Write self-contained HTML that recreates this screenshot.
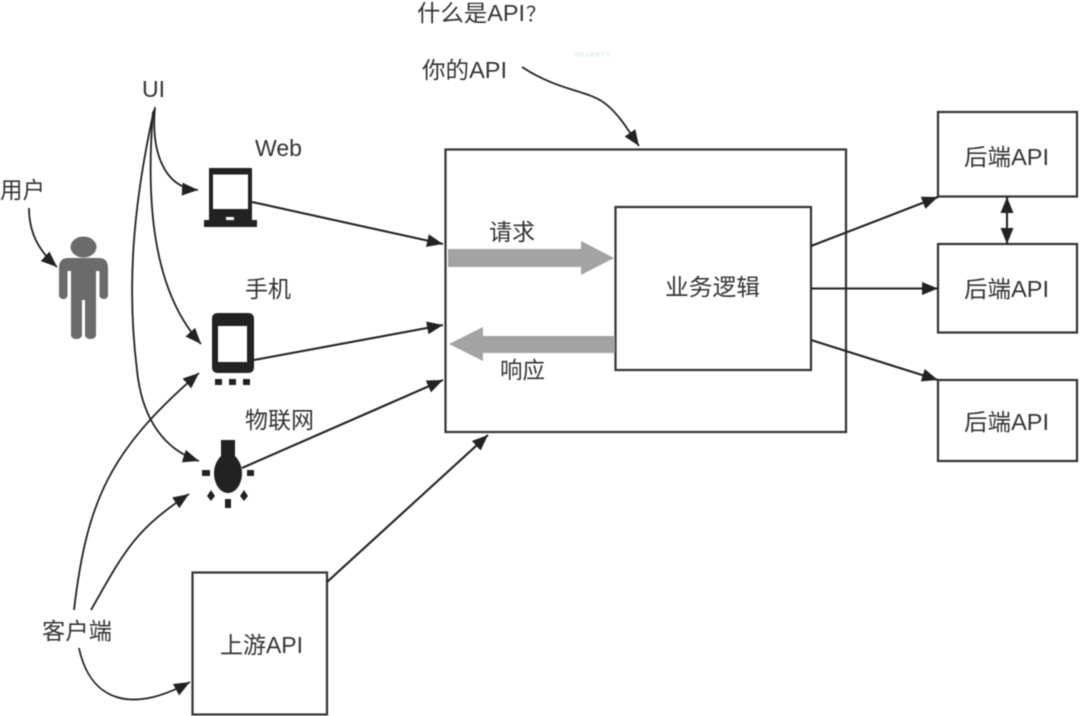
<!DOCTYPE html>
<html><head><meta charset="utf-8"><style>
html,body{margin:0;padding:0;background:#fff;width:1080px;height:716px;overflow:hidden}
svg{display:block;filter:blur(.4px)}
text{font-family:"Liberation Sans","Noto Sans CJK SC",sans-serif;font-size:23px;fill:#333}
.b{fill:none;stroke:#333;stroke-width:2.2}
.l{fill:none;stroke:#222;stroke-width:1.8;marker-end:url(#a)}
.t{stroke-width:2.1}
</style></head><body>
<svg width="1080" height="716" viewBox="0 0 1080 716" xmlns="http://www.w3.org/2000/svg">
<defs>
<marker id="a" markerUnits="userSpaceOnUse" markerWidth="18" markerHeight="16" refX="16" refY="8" orient="auto"><path d="M0 1.500 L16 8 L0 14.500Z" fill="#222"/></marker>
<marker id="s" markerUnits="userSpaceOnUse" markerWidth="18" markerHeight="16" refX="2" refY="8" orient="auto"><path d="M18 1.500 L2 8 L18 14.500Z" fill="#222"/></marker>
</defs>

<!-- boxes -->
<rect class="b" x="445.500" y="149.500" width="400.500" height="282.500"/>
<rect class="b" x="615.500" y="207" width="195.500" height="163"/>
<rect class="b" x="938" y="112" width="139" height="84.500"/>
<rect class="b" x="938" y="244" width="139" height="88.500"/>
<rect class="b" x="938" y="380" width="139" height="81"/>
<rect class="b" x="192.500" y="572.500" width="134.500" height="142"/>

<!-- grey arrows -->
<path d="M448 249H581V241L614 258L581 275V267H448Z" fill="#a3a3a3"/>
<path d="M449 344L483 327V336H615V353H483V361Z" fill="#a3a3a3"/>

<!-- person -->
<g fill="#6b6b6b">
<ellipse cx="83.500" cy="247" rx="13" ry="10.500"/>
<path d="M68 258H99Q108 258 108 268V296A4.500 4.500 0 0 1 99.500 296V271H96V336A6 5 0 0 1 85 336V300H82V336A6 5 0 0 1 71 336V271H67.500V296A4.500 4.500 0 0 1 59 296V268Q59 258 68 258Z"/>
</g>

<!-- laptop -->
<path fill-rule="evenodd" d="M209 168H252V220H257V227H204V220H209ZM213 174.500V209H248V174.500ZM226 217V220H234V217Z" fill="#222"/>

<!-- phone -->
<path fill-rule="evenodd" d="M218 313H248Q254 313 254 319V367Q254 373 248 373H218Q212 373 212 367V319Q212 313 218 313ZM218 326V362H247V326Z" fill="#222"/>
<g fill="#222"><rect x="215" y="379" width="7" height="6"/><rect x="229" y="379" width="7" height="6"/><rect x="243" y="379" width="7" height="6"/></g>

<!-- bulb -->
<g fill="#222">
<rect x="221" y="440" width="14" height="20"/>
<path d="M221 456C217 460 214 466 214 473C214 484 220 493 228 493C236 493 242 484 242 473C242 466 239 460 235 456Z"/>
<rect x="202" y="470" width="8" height="6"/>
<rect x="247" y="470" width="7" height="6"/>
<path d="M211 490L215 496L211 501L207 496Z"/>
<path d="M244 490L248 496L244 501L240 496Z"/>
<rect x="225" y="499" width="6" height="9"/>
</g>

<!-- connectors -->
<path class="l" d="M155 107C151 150 163 188 198 190"/>
<path class="l" d="M153 112C146 200 152 290 201 344"/>
<path class="l" d="M154 110C132 210 127 290 137 370C142 420 165 450 199 461"/>
<path class="l" d="M29 208C29 232 38 250 57 267"/>
<path class="l" d="M74 610C87 500 110 450 199 373"/>
<path class="l" d="M91 610C125 550 135 530 189 494"/>
<path class="l" d="M79 648C90 700 130 715 190 682"/>
<path class="l" d="M522 67C560 92 590 90 607 105C620 116 628 130 639 146"/>
<path class="l t" d="M252 202L443 244"/>
<path class="l t" d="M254 360L443 325"/>
<path class="l t" d="M242 468L443 380"/>
<path class="l t" d="M327 582L488 435"/>
<path class="l t" d="M811 246L938 197"/>
<path class="l t" d="M811 288.500L938 288.500"/>
<path class="l t" d="M811 340L938 380"/>
<path class="l t" d="M1007 197L1007 244" style="marker-start:url(#s)"/>

<!-- labels -->
<text x="417" y="21" textLength="108" lengthAdjust="spacingAndGlyphs">什么是API</text>
<text x="526" y="21" style="font-size:20px">？</text>
<text x="422" y="78" textLength="85" lengthAdjust="spacingAndGlyphs">你的API</text>
<text x="574" y="56" textLength="37" lengthAdjust="spacingAndGlyphs" style="font-size:5px;fill:#d5e8e8">轻易云集成平台</text>
<text x="142" y="97" textLength="23" lengthAdjust="spacingAndGlyphs">UI</text>
<text x="255" y="156" textLength="47" lengthAdjust="spacingAndGlyphs">Web</text>
<text x="0" y="198" textLength="45" lengthAdjust="spacingAndGlyphs">用户</text>
<text x="245" y="297" textLength="46" lengthAdjust="spacingAndGlyphs">手机</text>
<text x="245" y="428" textLength="69" lengthAdjust="spacingAndGlyphs">物联网</text>
<text x="42" y="639" textLength="70" lengthAdjust="spacingAndGlyphs">客户端</text>
<text x="220" y="653" textLength="83" lengthAdjust="spacingAndGlyphs">上游API</text>
<text x="489" y="240" textLength="46" lengthAdjust="spacingAndGlyphs">请求</text>
<text x="500" y="378" textLength="45" lengthAdjust="spacingAndGlyphs">响应</text>
<text x="665" y="295" textLength="95" lengthAdjust="spacingAndGlyphs">业务逻辑</text>
<text x="964" y="165" textLength="85" lengthAdjust="spacingAndGlyphs">后端API</text>
<text x="964" y="297" textLength="85" lengthAdjust="spacingAndGlyphs">后端API</text>
<text x="964" y="430" textLength="85" lengthAdjust="spacingAndGlyphs">后端API</text>
</svg>
</body></html>
